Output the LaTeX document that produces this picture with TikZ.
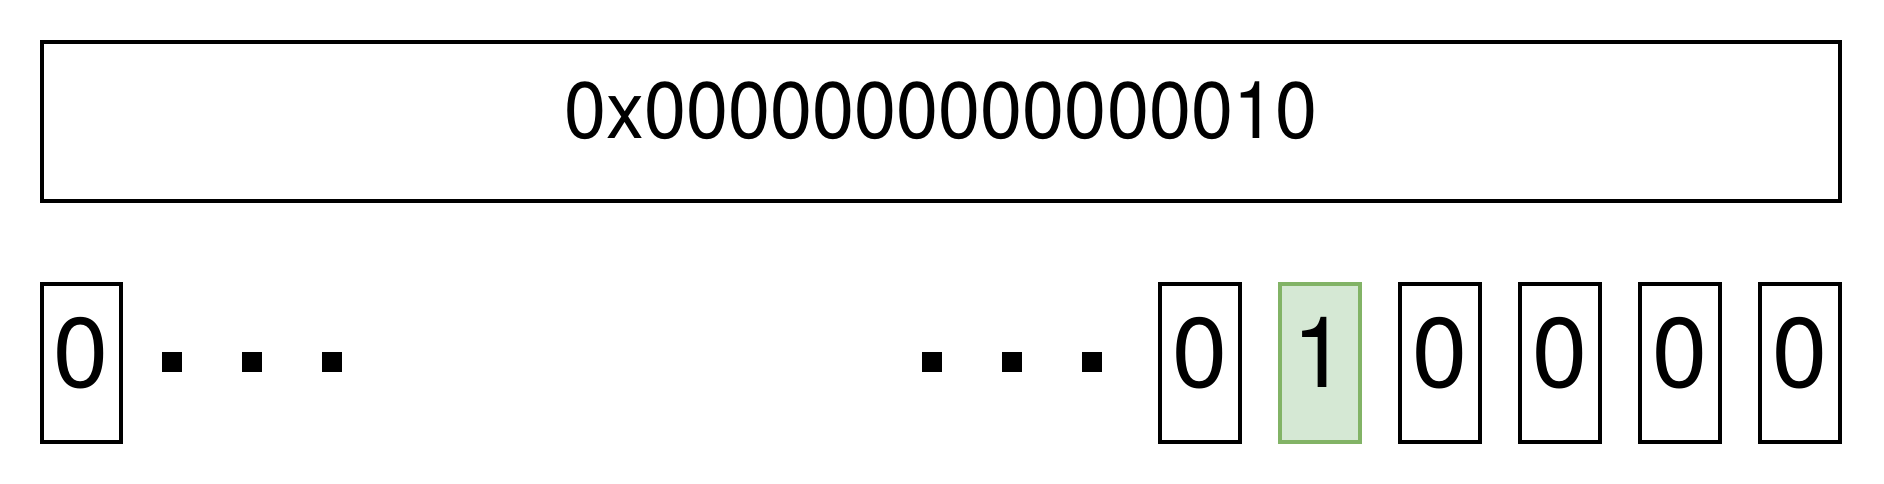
\documentclass[tikz,border=0pt]{standalone}
\usepackage{fontspec}
\usepackage{graphicx}
\setmainfont{TeX Gyre Heros}
\definecolor{gfill}{HTML}{D5E8D4}
\definecolor{gdraw}{HTML}{82B366}
\begin{document}
\begin{tikzpicture}[x=1pt,y=-1pt,
  cell/.style={draw=black,line width=4pt},
  hicell/.style={draw=gdraw,fill=gfill,line width=4pt},
  bigtxt/.style={inner sep=0pt,anchor=base,font=\fontsize{80}{96}\selectfont},
  digit/.style={inner sep=0pt,anchor=base,font=\fontsize{99}{118}\selectfont},
  dotsq/.style={fill=black,draw=none}]
\useasboundingbox (0,0) rectangle (1884,484);
% top box
\draw[cell] (42,42) rectangle (1840,201);
\node[bigtxt] (hex) at (941,139) {\scalebox{0.945}[1]{0x0000000000000010}};
% left cell
\draw[cell] (42,284) rectangle (121,442);
\node[digit] (b0) at (81.5,387) {0};
% dots
\foreach \x/\n in {162/l1,242/l2,322/l3,922/r1,1002/r2,1082/r3}{
  \fill[dotsq] (\x,352) rectangle ++(20,20);
}
% right cells
\draw[cell] (1160,284) rectangle (1240,442);
\node[digit] (c5) at (1200,387) {0};
\draw[hicell] (1280,284) rectangle (1360,442);
\node[digit] (c4) at (1320,387) {1};
\draw[cell] (1400,284) rectangle (1480,442);
\node[digit] (c3) at (1440,387) {0};
\draw[cell] (1520,284) rectangle (1600,442);
\node[digit] (c2) at (1560,387) {0};
\draw[cell] (1640,284) rectangle (1720,442);
\node[digit] (c1) at (1680,387) {0};
\draw[cell] (1760,284) rectangle (1840,442);
\node[digit] (c0) at (1800,387) {0};
\end{tikzpicture}
\end{document}
